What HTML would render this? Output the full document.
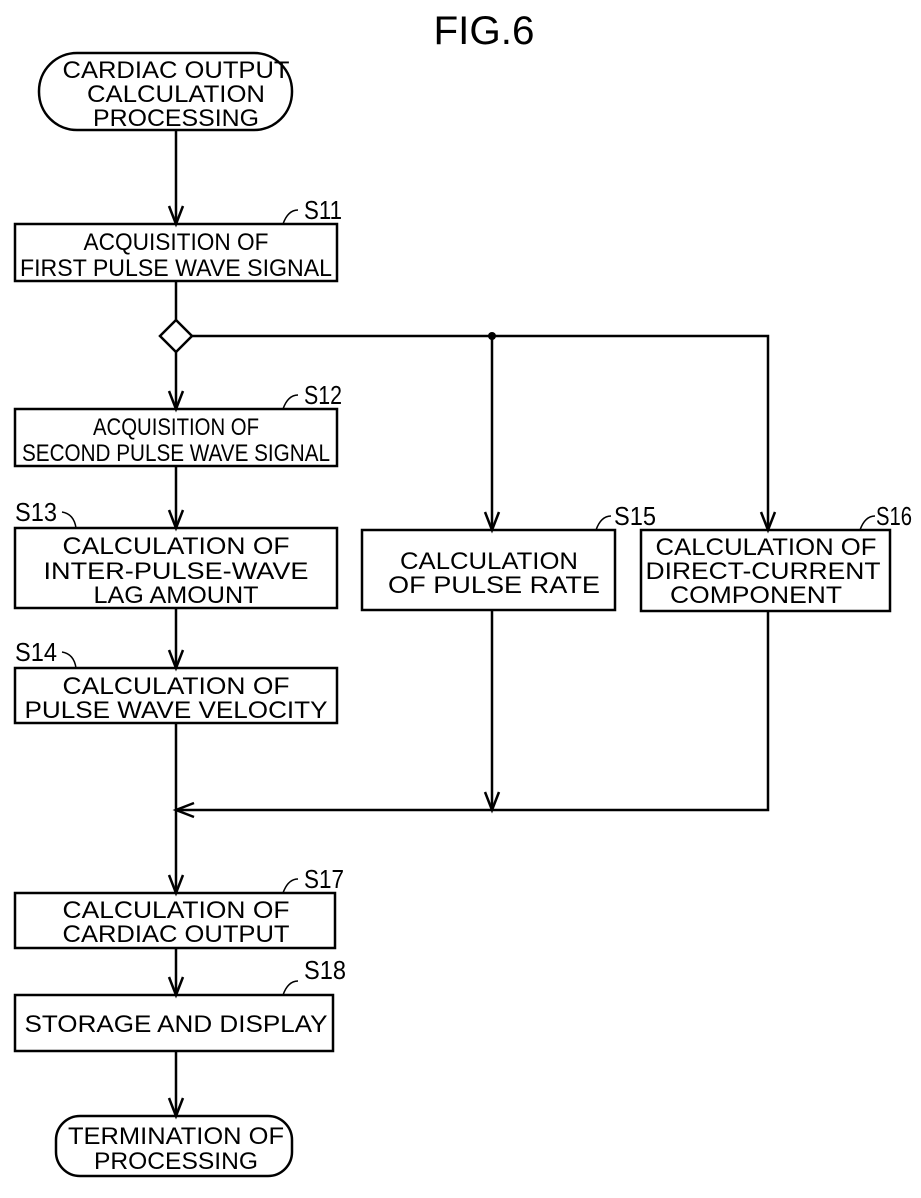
<!DOCTYPE html>
<html><head><style>
body{margin:0;background:#fff;}
svg text{font-family:"Liberation Sans",sans-serif;fill:#000;}
</style></head><body>
<svg width="921" height="1193" viewBox="0 0 921 1193" xmlns="http://www.w3.org/2000/svg">
<g fill="none" stroke="#000" stroke-width="2.5">
<rect x="39" y="53" width="253" height="77" rx="38"/>
<rect x="15" y="224" width="322" height="57"/>
<polygon points="176,320 192,336 176,352 160,336"/>
<rect x="15" y="409" width="322" height="57"/>
<rect x="15" y="528" width="322" height="80"/>
<rect x="15" y="668" width="322" height="55"/>
<rect x="362" y="530" width="253" height="80"/>
<rect x="641" y="530" width="249" height="81"/>
<rect x="15" y="893" width="320" height="55"/>
<rect x="15" y="995" width="318" height="56"/>
<rect x="56" y="1116" width="236" height="60" rx="24"/>
<line x1="176" y1="130" x2="176" y2="224"/>
<line x1="176" y1="281" x2="176" y2="320"/>
<line x1="176" y1="352" x2="176" y2="409"/>
<line x1="176" y1="466" x2="176" y2="528"/>
<line x1="176" y1="608" x2="176" y2="668"/>
<line x1="176" y1="723" x2="176" y2="893"/>
<line x1="176" y1="948" x2="176" y2="995"/>
<line x1="176" y1="1051" x2="176" y2="1116"/>
<polyline points="192,336 768,336 768,530"/>
<line x1="492" y1="336" x2="492" y2="530"/>
<line x1="492" y1="610" x2="492" y2="810"/>
<polyline points="768,611 768,810 176,810"/>
<polyline points="169,206 176,224 183,206"/>
<polyline points="169,391 176,409 183,391"/>
<polyline points="169,510 176,528 183,510"/>
<polyline points="169,650 176,668 183,650"/>
<polyline points="169,875 176,893 183,875"/>
<polyline points="169,977 176,995 183,977"/>
<polyline points="169,1098 176,1116 183,1098"/>
<polyline points="485,512 492,530 499,512"/>
<polyline points="761,512 768,530 775,512"/>
<polyline points="485,792 492,810 499,792"/>
<polyline points="194,803 176,810 194,817"/>
<path d="M283,224 q5,-14 15,-14" stroke-width="1.5"/>
<path d="M283,409 q5,-14 15,-14" stroke-width="1.5"/>
<path d="M62,512 q12,2 14,16" stroke-width="1.5"/>
<path d="M62,652 q12,2 14,16" stroke-width="1.5"/>
<path d="M596,530 q5,-14 15,-14" stroke-width="1.5"/>
<path d="M860,530 q5,-14 15,-14" stroke-width="1.5"/>
<path d="M283,893 q5,-14 15,-14" stroke-width="1.5"/>
<path d="M283,995 q5,-14 15,-14" stroke-width="1.5"/>
</g>
<circle cx="492" cy="336" r="4" fill="#000"/>
<text x="484" y="44" font-size="40" text-anchor="middle" textLength="101" lengthAdjust="spacingAndGlyphs">FIG.6</text>
<g font-size="24" text-anchor="middle" lengthAdjust="spacingAndGlyphs">
<text x="176" y="78" textLength="227" lengthAdjust="spacingAndGlyphs">CARDIAC OUTPUT</text>
<text x="176" y="102" textLength="178" lengthAdjust="spacingAndGlyphs">CALCULATION</text>
<text x="176" y="126" textLength="166" lengthAdjust="spacingAndGlyphs">PROCESSING</text>
<text x="176" y="250" textLength="185" lengthAdjust="spacingAndGlyphs">ACQUISITION OF</text>
<text x="176" y="276" textLength="312" lengthAdjust="spacingAndGlyphs">FIRST PULSE WAVE SIGNAL</text>
<text x="176" y="435" textLength="166" lengthAdjust="spacingAndGlyphs">ACQUISITION OF</text>
<text x="176" y="461" textLength="308" lengthAdjust="spacingAndGlyphs">SECOND PULSE WAVE SIGNAL</text>
<text x="176" y="554" textLength="227" lengthAdjust="spacingAndGlyphs">CALCULATION OF</text>
<text x="176" y="579" textLength="265" lengthAdjust="spacingAndGlyphs">INTER-PULSE-WAVE</text>
<text x="176" y="603" textLength="165" lengthAdjust="spacingAndGlyphs">LAG AMOUNT</text>
<text x="176" y="694" textLength="227" lengthAdjust="spacingAndGlyphs">CALCULATION OF</text>
<text x="176" y="718" textLength="303" lengthAdjust="spacingAndGlyphs">PULSE WAVE VELOCITY</text>
<text x="489" y="569" textLength="178" lengthAdjust="spacingAndGlyphs">CALCULATION</text>
<text x="494" y="593" textLength="212" lengthAdjust="spacingAndGlyphs">OF PULSE RATE</text>
<text x="766" y="555" textLength="221" lengthAdjust="spacingAndGlyphs">CALCULATION OF</text>
<text x="763" y="579" textLength="235" lengthAdjust="spacingAndGlyphs">DIRECT-CURRENT</text>
<text x="756" y="603" textLength="172" lengthAdjust="spacingAndGlyphs">COMPONENT</text>
<text x="176" y="918" textLength="227" lengthAdjust="spacingAndGlyphs">CALCULATION OF</text>
<text x="176" y="942" textLength="227" lengthAdjust="spacingAndGlyphs">CARDIAC OUTPUT</text>
<text x="176" y="1032" textLength="303" lengthAdjust="spacingAndGlyphs">STORAGE AND DISPLAY</text>
<text x="176" y="1144" textLength="216" lengthAdjust="spacingAndGlyphs">TERMINATION OF</text>
<text x="176" y="1169" textLength="164" lengthAdjust="spacingAndGlyphs">PROCESSING</text>
</g>
<g font-size="26">
<text x="304" y="219" textLength="38" lengthAdjust="spacingAndGlyphs">S11</text>
<text x="304" y="404" textLength="38" lengthAdjust="spacingAndGlyphs">S12</text>
<text x="15" y="521" textLength="42" lengthAdjust="spacingAndGlyphs">S13</text>
<text x="15" y="661" textLength="42" lengthAdjust="spacingAndGlyphs">S14</text>
<text x="614" y="525" textLength="42" lengthAdjust="spacingAndGlyphs">S15</text>
<text x="876" y="525" textLength="36" lengthAdjust="spacingAndGlyphs">S16</text>
<text x="304" y="888" textLength="40" lengthAdjust="spacingAndGlyphs">S17</text>
<text x="304" y="979" textLength="42" lengthAdjust="spacingAndGlyphs">S18</text>
</g>
</svg>
</body></html>
